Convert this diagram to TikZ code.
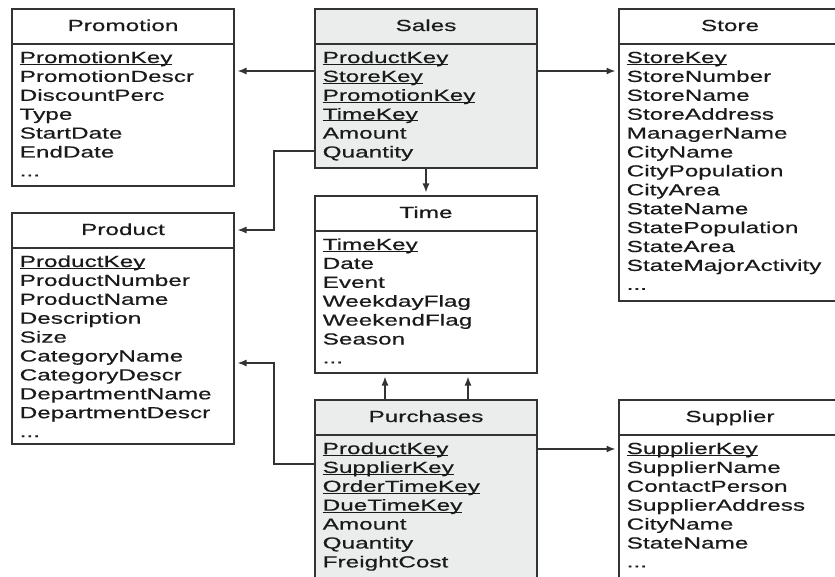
\documentclass[tikz,border=0pt]{standalone}
\usepackage{fontspec}
\setmainfont{Liberation Sans}[FakeStretch=1.52, FakeBold=0.45]
\usetikzlibrary{arrows.meta}

\definecolor{inkline}{HTML}{333333}
\definecolor{inktext}{HTML}{1A1A1A}
\definecolor{factfill}{HTML}{EBECEC}

% underlined key attribute
\newcommand\pkey[1]{\setbox0=\hbox{#1}\rlap{\rule[-1.7pt]{\wd0}{0.9pt}}\box0}
% trailing "more attributes" marker
\newcommand\moreattr{...}

\tikzset{
  tbl/.style={draw=inkline, line width=1.7pt, rectangle, inner sep=0pt, outer sep=0pt},
  factbox/.style={fill=factfill},
  dimbox/.style={fill=white},
  divider/.style={draw=inkline, line width=1.7pt},
  ttl/.style={inner sep=0pt, anchor=base, text=inktext, font=\fontsize{16}{19}\selectfont},
  attr/.style={inner sep=0pt, anchor=base west, text=inktext, font=\fontsize{16}{19}\selectfont},
  conn/.style={draw=inkline, line width=1.4pt, shorten >=3.5pt,
    -{Latex[length=9pt,width=7pt]}},
}

% name, left x, top y, bottom y, fill style, title, attributes
\newcommand\dbtable[7]{%
  \node[tbl, #5, anchor=north west, minimum width=222pt,
        minimum height={(#4)-(#3)}] (#1) at (#2,#3) {};
  \node[ttl] (#1-title) at ({#2+111},{#3+22}) {#6};
  \draw[divider] (#1.west |- 0,{#3+35}) -- (#1.east |- 0,{#3+35});
  \foreach \f [count=\i] in {#7}
    \node[attr] (#1-\i) at ({#2+7.5},{#3+54+(\i-1)*18.9}) {\f};
}

\begin{document}
\begin{tikzpicture}[x=1pt, y=-1pt]
  \useasboundingbox (0,0) rectangle (835,577);
  \clip (0,0) rectangle (835,577);

  \dbtable{promo}{12}{9}{186}{dimbox}{Promotion}%
    {\pkey{PromotionKey}, PromotionDescr, DiscountPerc, Type, StartDate, EndDate, \moreattr}
  \dbtable{sales}{315}{9}{168}{factbox}{Sales}%
    {\pkey{ProductKey}, \pkey{StoreKey}, \pkey{PromotionKey}, \pkey{TimeKey}, Amount, Quantity}
  \dbtable{store}{619}{9}{301}{dimbox}{Store}%
    {\pkey{StoreKey}, StoreNumber, StoreName, StoreAddress, ManagerName, CityName,
     CityPopulation, CityArea, StateName, StatePopulation, StateArea, StateMajorActivity, \moreattr}
  \dbtable{product}{12}{213}{444}{dimbox}{Product}%
    {\pkey{ProductKey}, ProductNumber, ProductName, Description, Size, CategoryName,
     CategoryDescr, DepartmentName, DepartmentDescr, \moreattr}
  \dbtable{time}{315}{196}{373}{dimbox}{Time}%
    {\pkey{TimeKey}, Date, Event, WeekdayFlag, WeekendFlag, Season, \moreattr}
  \dbtable{purch}{315}{400}{584}{factbox}{Purchases}%
    {\pkey{ProductKey}, \pkey{SupplierKey}, \pkey{OrderTimeKey}, \pkey{DueTimeKey},
     Amount, Quantity, FreightCost}
  \dbtable{supplier}{619}{400}{584}{dimbox}{Supplier}%
    {\pkey{SupplierKey}, SupplierName, ContactPerson, SupplierAddress, CityName, StateName, \moreattr}

  % column of the elbow connectors into Product
  \coordinate (elbow) at (274,0);

  \draw[conn] (sales.west |- 0,71) -- (promo.east |- 0,71);
  \draw[conn] (sales.east |- 0,71) -- (store.west |- 0,71);
  \draw[conn] (sales.south) -- (time.north);
  \draw[conn] (sales.west |- 0,151) -| (elbow |- 0,230) -- (product.east |- 0,230);
  \draw[conn] (purch.north -| 385,0) -- (time.south -| 385,0);
  \draw[conn] (purch.north -| 468,0) -- (time.south -| 468,0);
  \draw[conn] (purch.west |- 0,464) -| (elbow |- 0,363) -- (product.east |- 0,363);
  \draw[conn] (purch.east |- 0,449) -- (supplier.west |- 0,449);
\end{tikzpicture}
\end{document}
